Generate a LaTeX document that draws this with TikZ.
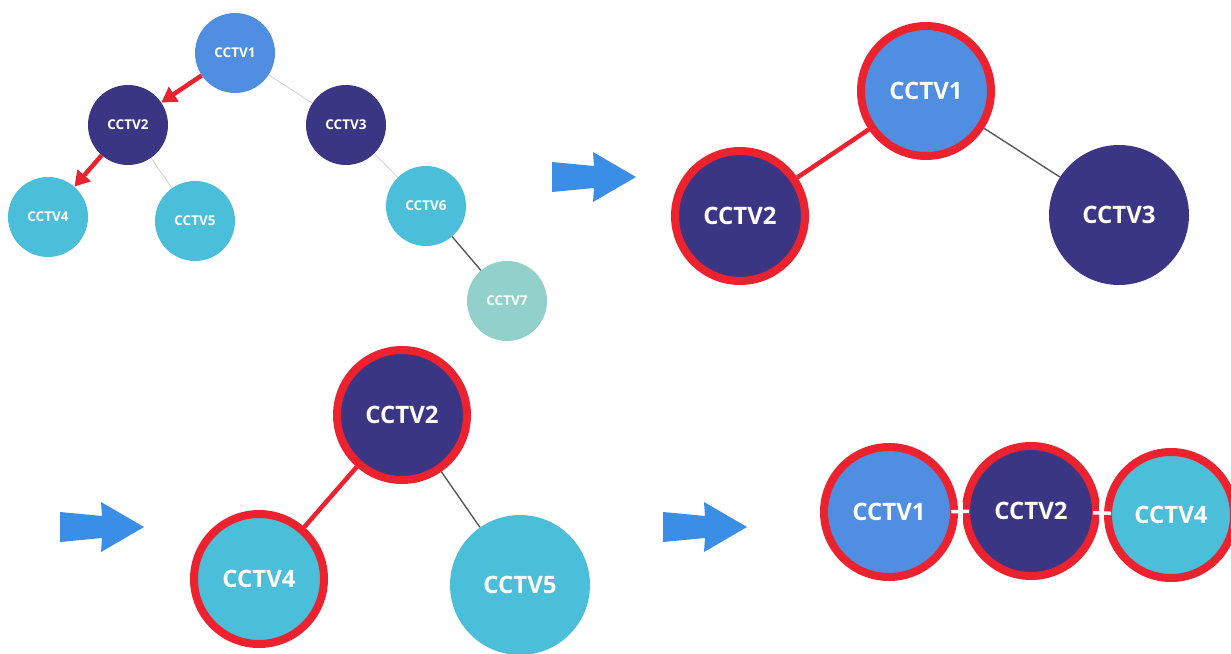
\documentclass[tikz,border=0pt]{standalone}
\usepackage{fontspec}
\setmainfont{Open Sans}
\usetikzlibrary{arrows.meta,backgrounds,calc}
\definecolor{cblue}{HTML}{4F8EE0}
\definecolor{cnavy}{HTML}{3B3684}
\definecolor{ccyan}{HTML}{4BBEDA}
\definecolor{cteal}{HTML}{91D0CB}
\definecolor{cred}{HTML}{EC222E}
\definecolor{carrow}{HTML}{3A8EE6}
\tikzset{
  cam/.style={circle, inner sep=0pt, text=white, minimum size=80pt,
    font=\bfseries\fontsize{13.5}{15}\selectfont},
  bigcam/.style={circle, inner sep=0pt, text=white, minimum size=140pt,
    font=\bfseries\fontsize{24}{26}\selectfont},
  ringed/.style={draw=cred, line width=8pt, minimum size=130pt},
  lightlink/.style={draw=gray!35, line width=0.8pt},
  darklink/.style={draw=black!65, line width=1.4pt},
  redlink/.style={draw=cred, line width=4.5pt},
  redarrow/.style={draw=cred, line width=4.5pt, -{Triangle[length=15pt,width=17pt]}},
  whitelink/.style={draw=white, line width=3.5pt},
  bluearrow/.pic={\fill[carrow] (0,-15) -- (42,-11) -- (41,-25) -- (84,0) -- (41,25) -- (42,11) -- (0,15) -- cycle;}
}
\begin{document}
\begin{tikzpicture}[x=1pt,y=-1pt]
\useasboundingbox (0,0) rectangle (1231,653);
\clip (0,0) rectangle (1231,653);
% small tree
\node[cam, fill=cblue] (s1) at (235,53) {CCTV1};
\node[cam, fill=cnavy] (s2) at (128,125) {CCTV2};
\node[cam, fill=cnavy] (s3) at (346,125) {CCTV3};
\node[cam, fill=ccyan] (s4) at (48,217) {CCTV4};
\node[cam, fill=ccyan] (s5) at (195,221) {CCTV5};
\node[cam, fill=ccyan] (s6) at (426,206) {CCTV6};
\node[cam, fill=cteal] (s7) at (507,301) {CCTV7};
% top right
\node[bigcam, ringed, fill=cblue] (t1) at (926,91) {CCTV1};
\node[bigcam, ringed, fill=cnavy] (t2) at (740,216) {CCTV2};
\node[bigcam, fill=cnavy] (t3) at (1119,215) {CCTV3};
% bottom middle
\node[bigcam, ringed, fill=cnavy] (b2) at (402,415) {CCTV2};
\node[bigcam, ringed, fill=ccyan] (b4) at (259,579) {CCTV4};
\node[bigcam, fill=ccyan] (b5) at (520,585) {CCTV5};
% bottom right
\node[bigcam, ringed, fill=cblue] (r1) at (889,512) {CCTV1};
\node[bigcam, ringed, fill=cnavy] (r2) at (1031,511) {CCTV2};
\node[bigcam, ringed, fill=ccyan, minimum size=126pt] (r4) at (1171,515) {CCTV4};
% connectors
\begin{scope}[on background layer]
\draw[lightlink] (s1) -- (s3);
\draw[lightlink] (s2) -- (s5);
\draw[lightlink] (s3) -- (s6);
\draw[darklink] (s6) -- (s7);
\draw[redlink] (t1) -- (t2);
\draw[darklink] (t1) -- (t3);
\draw[redlink] (b2) -- (b4);
\draw[darklink] (b2) -- (b5);
\end{scope}
\draw[redarrow] (s1) -- (s2);
\draw[redarrow] (s2) -- (s4);
\draw[whitelink, shorten <=-7pt, shorten >=-7pt] (r1) -- (r2);
\draw[whitelink, shorten <=-7pt, shorten >=-7pt] (r2) -- (r4);
\coordinate (m1a) at (961,502);
\coordinate (m1b) at (961,524);
\coordinate (m2a) at (1101,502);
\coordinate (m2b) at (1101,524);
\draw[whitelink] (m1a) -- (m1b);
\draw[whitelink] (m2a) -- (m2b);
% blue arrows
\pic at (552,177) {bluearrow};
\pic at (60,527) {bluearrow};
\pic at (663,527) {bluearrow};
\end{tikzpicture}
\end{document}
